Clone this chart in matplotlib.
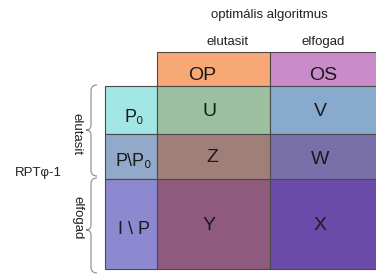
import matplotlib.pyplot as plt
from matplotlib.patches import Rectangle, PathPatch
from matplotlib.path import Path

plt.rcParams['font.family'] = ['Liberation Sans', 'DejaVu Sans']

# data
title = 'optimális algoritmus'
col_titles = ['elutasit', 'elfogad']
col_headers = ['OP', 'OS']
col_header_colors = ['#f7a874', '#c98cc9']
row_labels = ['P₀', 'P\\P₀', 'I \\ P']
row_label_colors = ['#a2e6e6', '#93a9c9', '#8c89d1']
cells = [['U', 'V'], ['Z', 'W'], ['Y', 'X']]
cell_colors = [['#9cbf9f', '#88abcd'],
               ['#a17f79', '#7a70a9'],
               ['#8e5b7f', '#6b4ba9']]
group_labels = ['elutasit', 'elfogad']
side_label = 'RPTφ-1'

# layout (pixel coords)
col_x = [157, 270, 378]
lab_x = 105
head_y = [52, 86]
row_y = [86, 134, 179, 269]
col_text_x = [209, 320]
head_text_x = [202, 323]
row_text_y = [112, 157, 226]
lab_text_y = [117, 162, 230]

fig = plt.figure(figsize=(3.76, 2.77), dpi=100)
ax = fig.add_axes([0, 0, 1, 1])
ax.set_xlim(0, 376)
ax.set_ylim(277, 0)
ax.axis('off')

edge = dict(edgecolor='#4a4a4a', linewidth=0.8)
small = dict(fontsize=9.5, color='#222')
big = dict(fontsize=14, color='#1a1a1a')

# column headers
ax.text(269, 15, title, ha='center', va='center', **small)
for j in range(2):
    ax.text([228, 323][j], 42, col_titles[j], ha='center', va='center', **small)
    ax.add_patch(Rectangle((col_x[j], head_y[0]), col_x[j + 1] - col_x[j], head_y[1] - head_y[0],
                           facecolor=col_header_colors[j], **edge))
    ax.text(head_text_x[j], 75, col_headers[j], ha='center', va='center', **big)

# rows
for i in range(3):
    y0, y1 = row_y[i], row_y[i + 1]
    ax.add_patch(Rectangle((lab_x, y0), col_x[0] - lab_x, y1 - y0,
                           facecolor=row_label_colors[i], **edge))
    ax.text(134, lab_text_y[i], row_labels[i], ha='center', va='center', fontsize=13, color='#1a1a1a')
    for j in range(2):
        ax.add_patch(Rectangle((col_x[j], y0), col_x[j + 1] - col_x[j], y1 - y0,
                               facecolor=cell_colors[i][j], **edge))
        dx = 3 if (i == 1 and j == 0) else 0
        dy = 3 if (i == 1 and j == 1) else 0
        ax.text(col_text_x[j] + dx, row_text_y[i] + dy, cells[i][j], ha='center', va='center', **big)


def brace(y0, y1, ym, x0=97, xm=91, xt=86):
    r = 5
    verts = [(x0, y0), (xm, y0), (xm, y0 + r), (xm, y0 + r),
             (xm, ym - r), (xm, ym), (xt, ym), (xm, ym), (xm, ym + r),
             (xm, y1 - r), (xm, y1 - r), (xm, y1), (x0, y1)]
    codes = [Path.MOVETO, Path.CURVE4, Path.CURVE4, Path.CURVE4,
             Path.LINETO, Path.CURVE3, Path.CURVE3, Path.CURVE3, Path.CURVE3,
             Path.LINETO, Path.CURVE4, Path.CURVE4, Path.CURVE4]
    ax.add_patch(PathPatch(Path(verts, codes), facecolor='none', edgecolor='#8a8a8a', linewidth=0.8))


brace(85, 176, 130)
brace(178, 273, 230)
ax.text(77, 134, group_labels[0], rotation=270, ha='center', va='center', **small)
ax.text(77, 218, group_labels[1], rotation=270, ha='center', va='center', **small)
ax.text(38, 173, side_label, ha='center', va='center', **small)

fig.savefig('out.png', dpi=100)
